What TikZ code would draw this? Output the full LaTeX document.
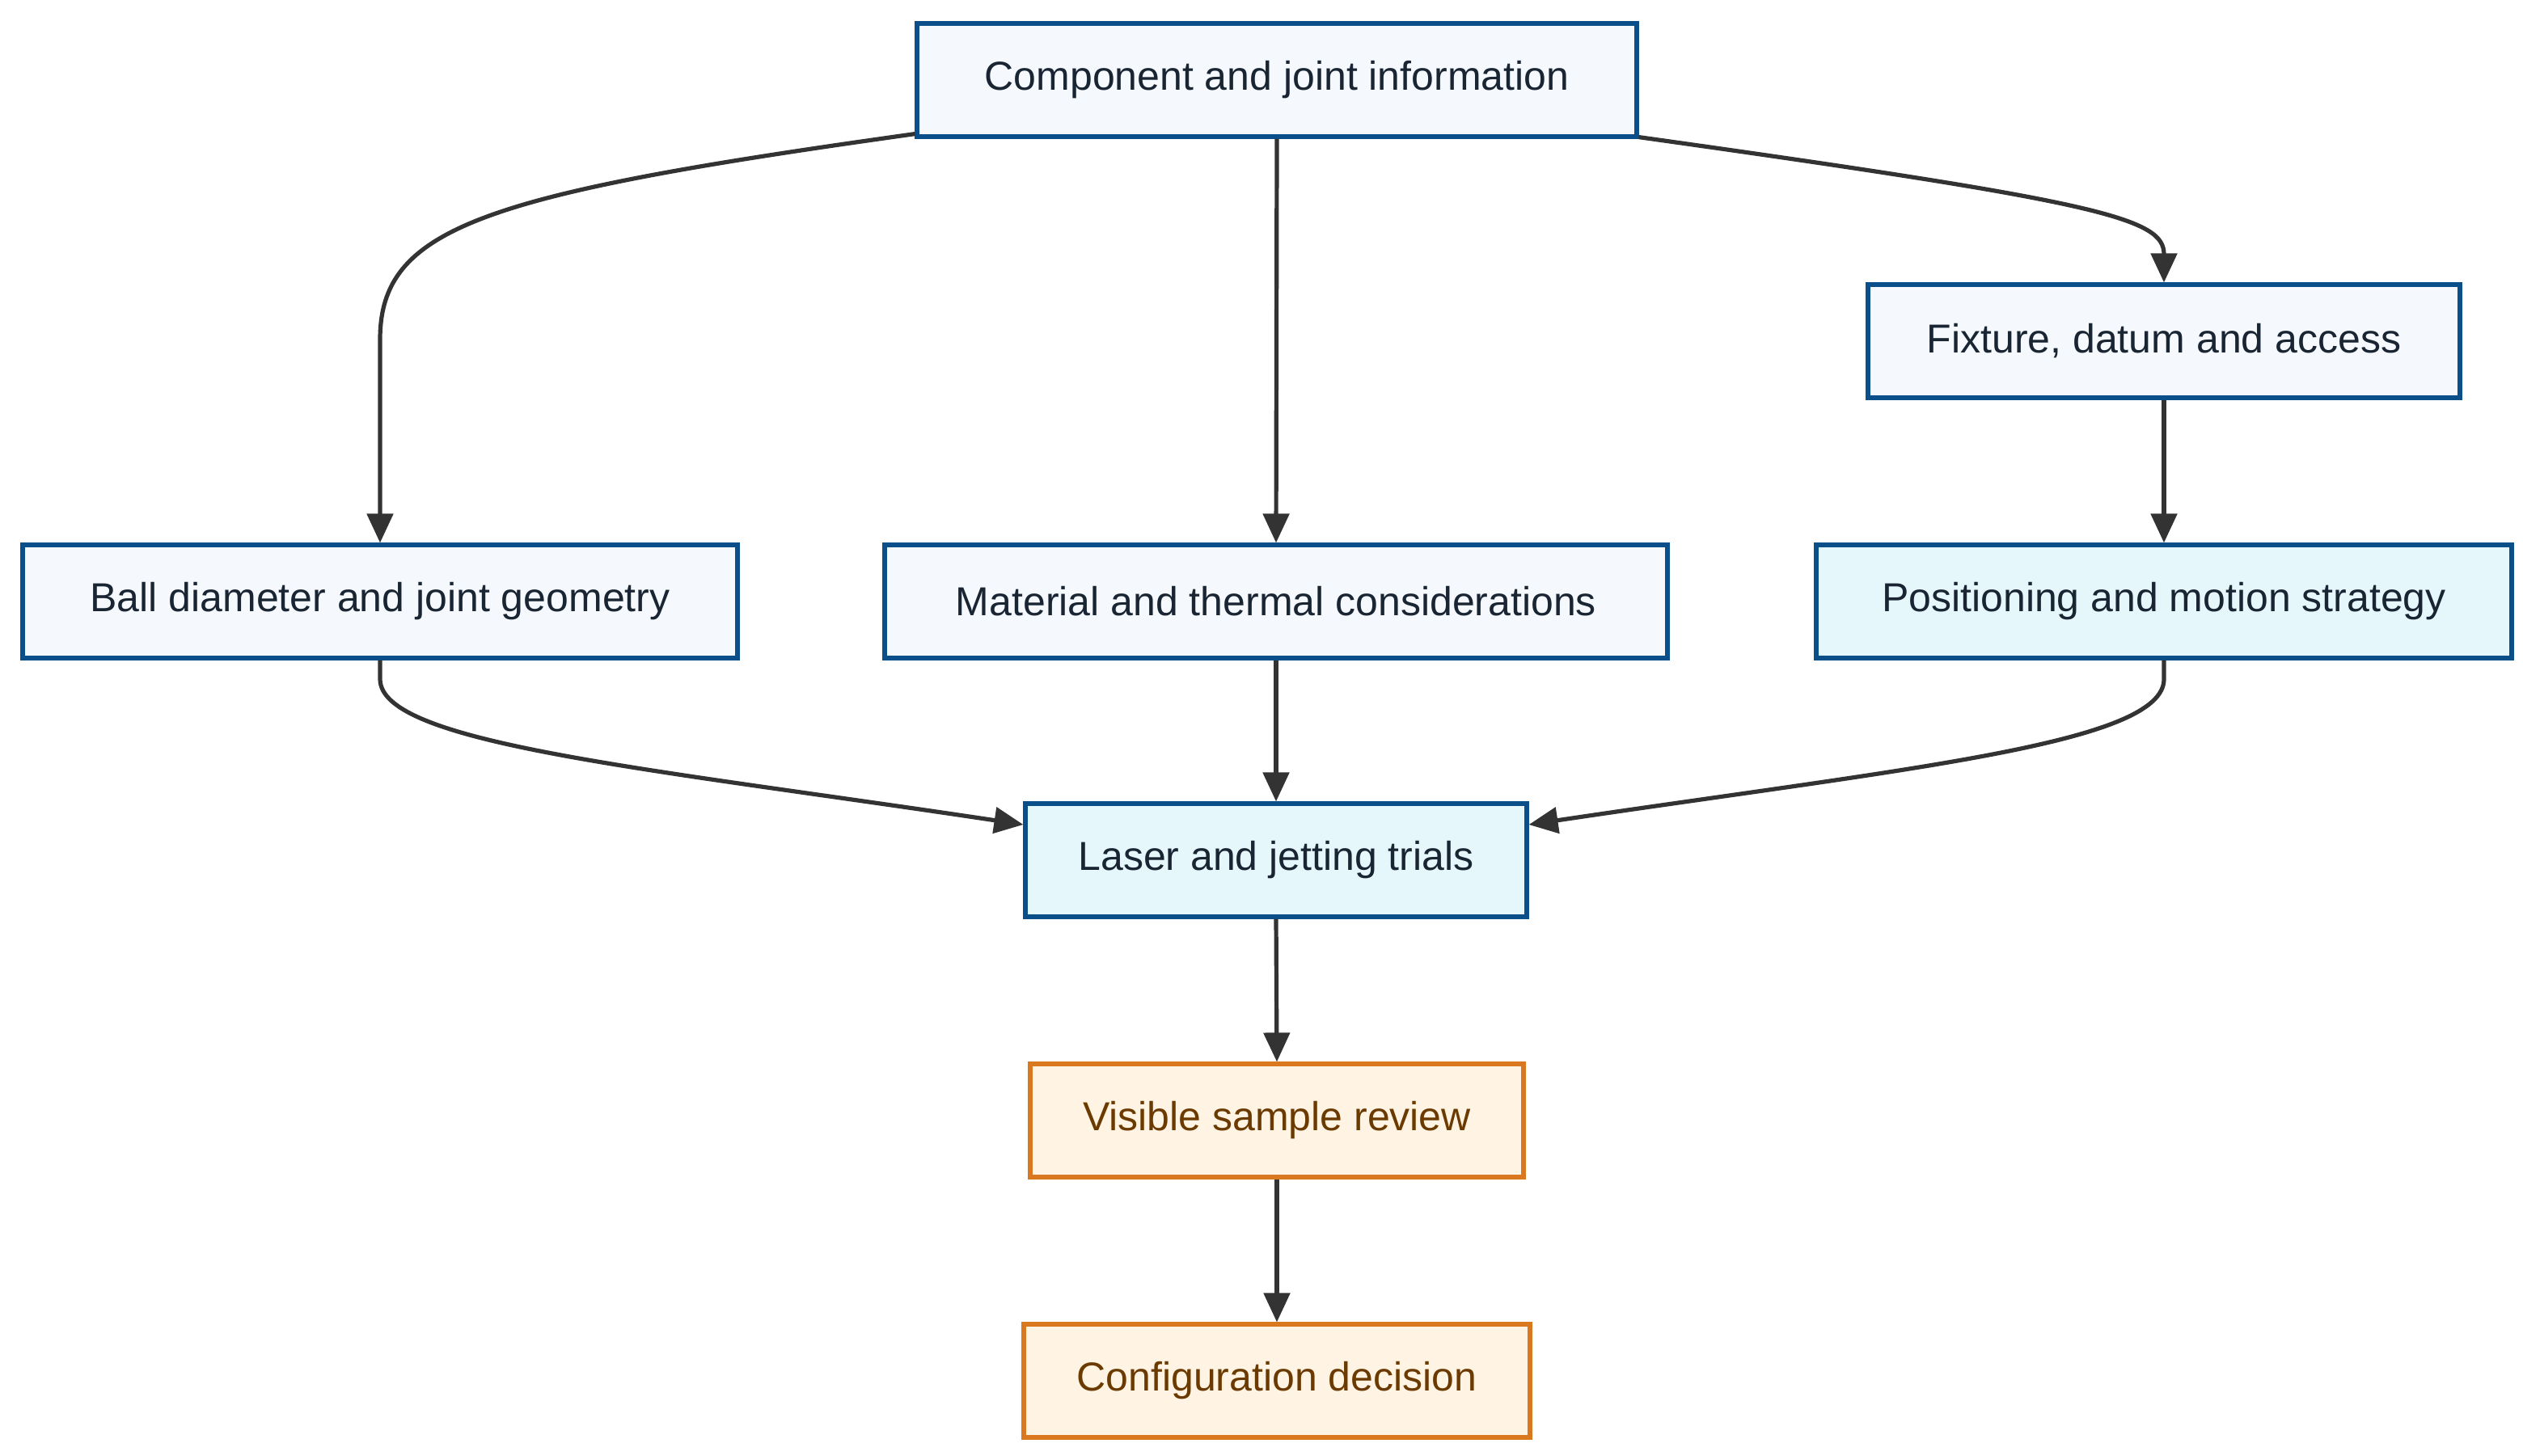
\documentclass[tikz,border=0pt]{standalone}
\usepackage{fontspec}
\setmainfont{Liberation Sans}
\usetikzlibrary{arrows.meta}
\definecolor{bb}{HTML}{0B4F8A}
\definecolor{bf}{HTML}{F5F9FD}
\definecolor{cf}{HTML}{E6F7FC}
\definecolor{ob}{HTML}{D9781F}
\definecolor{of}{HTML}{FFF3E3}
\definecolor{ot}{HTML}{6B3A00}
\definecolor{tx}{HTML}{1A2533}
\definecolor{ln}{HTML}{333333}
\begin{document}
\begin{tikzpicture}[x=1pt,y=-1pt,
 box/.style={draw=bb,fill=bf,line width=2.6pt,minimum height=70pt,inner sep=0pt,text=tx,font=\fontsize{25}{30}\selectfont},
 cbox/.style={box,fill=cf},
 obox/.style={box,draw=ob,fill=of,text=ot},
 arr/.style={draw=ln,line width=2.6pt,-{Triangle[length=18pt,width=16pt]}}]
\useasboundingbox (0,0) rectangle (1560,900);
\node[box,minimum width=445pt] (A) at (789.5,49.5) {Component and joint information};
\node[box,minimum width=366pt] (F) at (1338,211) {Fixture, datum and access};
\node[box,minimum width=442pt] (B) at (235,372) {Ball diameter and joint geometry};
\node[box,minimum width=484pt] (M) at (789,372) {Material and thermal considerations};
\node[cbox,minimum width=430pt] (P) at (1338,372) {Positioning and motion strategy};
\node[cbox,minimum width=310pt] (L) at (789,532) {Laser and jetting trials};
\node[obox,minimum width=305pt] (V) at (789.5,693) {Visible sample review};
\node[obox,minimum width=313pt] (C) at (789.5,854) {Configuration decision};
\draw[arr] (A.south west)++(0,-3) .. controls (300,120) and (235,140) .. (235,210) -- (B.north);
\draw[arr] (A.south east)++(0,-1) .. controls (1300,125) and (1338,135) .. (F.north);
\draw[arr] (A.south) -- (M.north);
\draw[arr] (F.south) -- (P.north);
\draw[arr] (B.south) -- (235,420) .. controls (235,460) and (400,475) .. (L.west |- 0,510);
\draw[arr] (P.south) -- (1338,420) .. controls (1338,460) and (1180,475) .. (L.east |- 0,510);
\draw[arr] (M.south) -- (L.north);
\draw[arr] (L.south) -- (V.north);
\draw[arr] (V.south) -- (C.north);
\end{tikzpicture}
\end{document}
